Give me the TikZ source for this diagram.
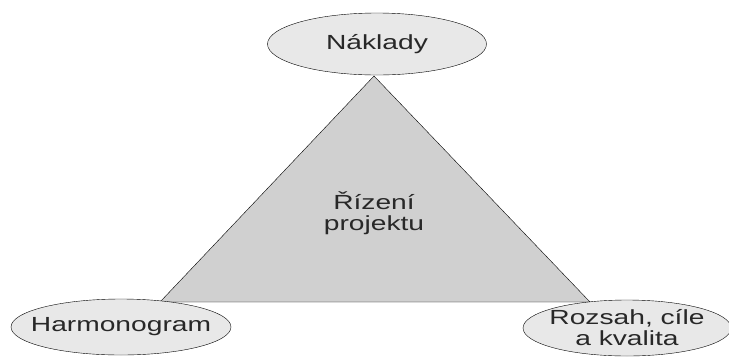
\documentclass[tikz,border=0pt]{standalone}
\usepackage{fontspec}
\setmainfont{Liberation Sans}
\newfontfamily\labelfont[FakeStretch=1.38]{Liberation Sans}

\definecolor{ovalgray}{RGB}{232,232,232}
\definecolor{trigray}{RGB}{208,208,208}
\definecolor{textgray}{RGB}{40,40,40}

\tikzset{
  oval/.style={draw=black, fill=ovalgray},
  label/.style={inner sep=0pt, align=center, text=textgray,
    font=\labelfont\fontsize{20.5}{21}\selectfont}
}

\begin{document}
\begin{tikzpicture}[x=1bp,y=-1bp]
  \useasboundingbox (0,0) rectangle (729,356);

  % corners of the triangle
  \coordinate (apex) at (374,76);
  \coordinate (cornerL) at (160,302);
  \coordinate (cornerR) at (590,302);

  % Triangle
  \draw [fill=trigray] (apex) -- (cornerR) -- (cornerL) -- cycle;
  \node (rizeni) [label] at (374,213) {Řízení\\projektu};

  % Ovals
  \coordinate (nakladyC) at (377,44);
  \coordinate (harmonogramC) at (121,327);
  \coordinate (rozsahC) at (627,328);
  \draw [oval] (nakladyC) ellipse [x radius=109.5, y radius=31];
  \draw [oval] (harmonogramC) ellipse [x radius=110, y radius=28];
  \draw [oval] (rozsahC) ellipse [x radius=104, y radius=28];

  % Text Nodes
  \node (naklady) [label] at (nakladyC) {Náklady};
  \node (harmonogram) [label] at (harmonogramC) {Harmonogram};
  \node (rozsah) [label] at (rozsahC) {Rozsah, cíle\\a kvalita};
\end{tikzpicture}
\end{document}
